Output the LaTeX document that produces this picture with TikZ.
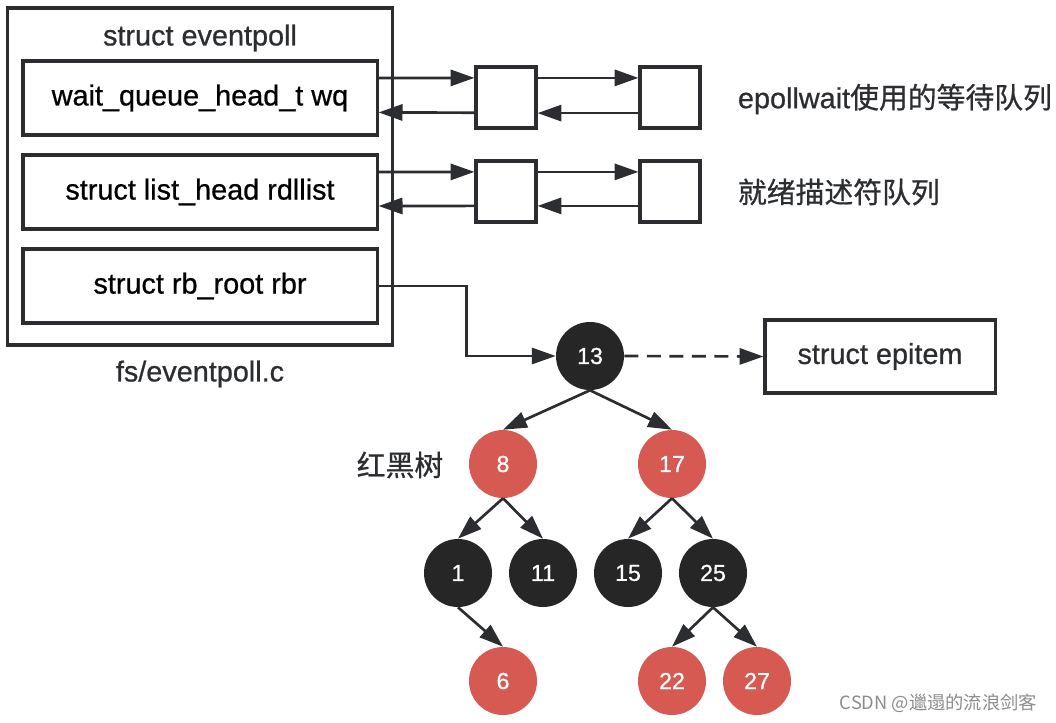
\documentclass[tikz,border=0pt]{standalone}
\usepackage{fontspec}
\setmainfont{Liberation Sans}[FakeBold=0.7]
\newfontfamily\cjk{Noto Sans CJK SC}[FakeBold=0.7]
\newfontfamily\markfont{Noto Sans CJK SC}
\usetikzlibrary{arrows.meta}
\definecolor{ink}{HTML}{2B2D30}
\definecolor{rbred}{HTML}{D65A52}
\definecolor{rbblack}{HTML}{262626}
\begin{document}
\begin{tikzpicture}[x=0.025cm, y=-0.025cm, >={Triangle[length=17pt,width=11.5pt]},
	box/.style={draw=ink, line width=2.2pt, minimum width=8.85cm, minimum height=1.85cm, font=\fontsize{20.5}{24}\selectfont},
	qbox/.style={draw=ink, line width=2.2pt, minimum width=1.5cm, minimum height=1.525cm},
	rb/.style={circle, minimum size=1.7cm, inner sep=0pt, text=white, font=\fontsize{16.5}{19}\selectfont},
	rbb/.style={rb, fill=rbblack}, rbr/.style={rb, fill=rbred},
	lbl/.style={font=\fontsize{20.5}{24}\selectfont, text=ink},
	link/.style={->, draw=ink, line width=1.9pt}]
	\useasboundingbox (0,0) rectangle (1056,722);
	% struct eventpoll
	\node[draw=ink, line width=2.2pt, minimum width=9.6cm, minimum height=8.425cm] (ep) at (200,176.5) {};
	\node[lbl] (eptitle) at (200,38) {struct eventpoll};
	\node[lbl] (epfile) at (200,374) {fs/eventpoll.c};
	\node[box] (wq) at (200,98) {wait\_queue\_head\_t wq};
	\node[box] (rdl) at (200,192) {struct list\_head rdllist};
	\node[box] (rbr) at (200,286) {struct rb\_root rbr};
	% queues
	\node[qbox] (wqa) at (506,97.5) {};
	\node[qbox] (wqb) at (670,97.5) {};
	\node[qbox] (rda) at (506,191.5) {};
	\node[qbox] (rdb) at (670,191.5) {};
	\draw[link] ([yshift=0.5cm]wq.east) -- ([yshift=0.49cm]wqa.west);
	\draw[link] ([yshift=-0.38cm]wqa.west) -- ([yshift=-0.36cm]wq.east);
	\draw[link] ([yshift=0.49cm]wqa.east) -- ([yshift=0.49cm]wqb.west);
	\draw[link] ([yshift=-0.39cm]wqb.west) -- ([yshift=-0.39cm]wqa.east);
	\draw[link] ([yshift=0.5cm]rdl.east) -- ([yshift=0.49cm]rda.west);
	\draw[link] ([yshift=-0.36cm]rda.west) -- ([yshift=-0.35cm]rdl.east);
	\draw[link] ([yshift=0.49cm]rda.east) -- ([yshift=0.49cm]rdb.west);
	\draw[link] ([yshift=-0.36cm]rdb.west) -- ([yshift=-0.36cm]rda.east);
	\node[lbl, anchor=west] (wqtxt) at (733,99) {epollwait{\cjk 使用的等待队列}};
	\node[lbl, anchor=west] (rdtxt) at (733,192) {\cjk 就绪描述符队列};
	% red-black tree
	\node[rbb] (n13) at (590,356) {13};
	\node[draw=ink, line width=2.2pt, minimum width=5.75cm, minimum height=1.825cm, lbl] (epi) at (880,356.5) {struct epitem};
	\node[rbr] (n8) at (503,464) {8};
	\node[rbr] (n17) at (672,464) {17};
	\node[rbb] (n1) at (458,573) {1};
	\node[rbb] (n11) at (543,573) {11};
	\node[rbb] (n15) at (628,573) {15};
	\node[rbb] (n25) at (713,573) {25};
	\node[rbr] (n6) at (503,681) {6};
	\node[rbr] (n22) at (672,681) {22};
	\node[rbr] (n27) at (757,681) {27};
	\node[lbl] (rbtxt) at (400,465) {\cjk 红黑树};
	\draw[link] (rbr.east) -- ++(88,0) |- (n13.west);
	\draw[link, dash pattern=on 10pt off 6pt] (n13.east) -- (epi.west);
	\foreach \a/\b in {n13/n8, n13/n17, n8/n1, n8/n11, n17/n15, n17/n25, n1/n6, n25/n22, n25/n27}
		\draw[link] (\a.south) -- (\b.north);
	\node[anchor=east, text=black!45, font=\markfont\fontsize{13}{15}\selectfont] (mark) at (1042,703) {CSDN @邋遢的流浪剑客};
\end{tikzpicture}
\end{document}
